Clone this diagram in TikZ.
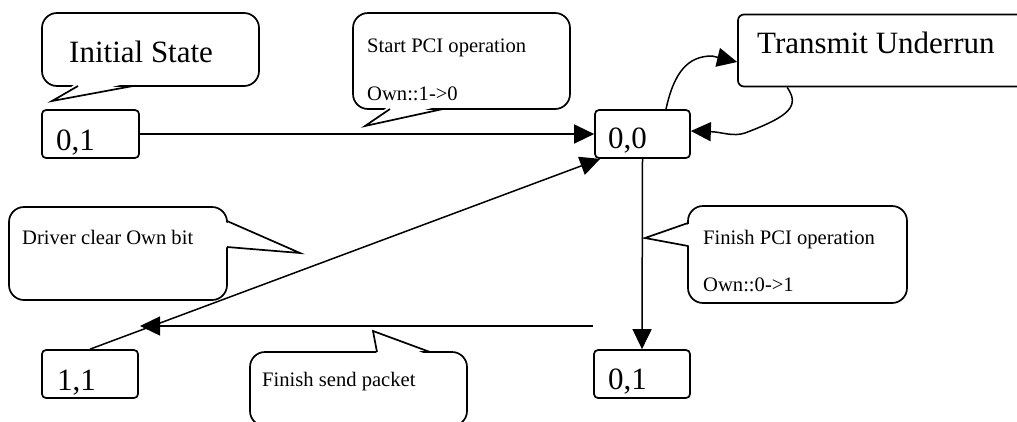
\documentclass[tikz,border=0pt]{standalone}
\usepackage{fontspec}
\setmainfont{Liberation Serif}
\usetikzlibrary{arrows.meta,calc}
\begin{document}
\begin{tikzpicture}[x=1pt,y=-1pt,
  statebox/.style={draw, line width=1.7pt, rounded corners=4pt, minimum width=96pt, minimum height=48pt, inner sep=0pt},
  bigtxt/.style={inner sep=0pt, anchor=base west, font=\fontsize{31}{36}\selectfont},
  smalltxt/.style={inner sep=0pt, anchor=base west, font=\fontsize{20.6}{24}\selectfont},
  callbody/.style={draw, line width=1.7pt, fill=white, rounded corners=15pt},
  calltail/.style={draw, line width=1.7pt, line join=miter},
  conn/.style={line width=1.5pt, -{Triangle[length=20pt,width=19pt]}},
]
\useasboundingbox (0,0) rectangle (1017,421);
\clip (0,0) rectangle (1017,421);

% ---- callouts ----
% Initial State
\draw[callbody] (42,13) rectangle (259,86);
\fill[white] (78,82) -- (52,101) -- (133,82) -- cycle;
\draw[calltail] (78,86) -- (52,101) -- (133,86);
% Start PCI operation
\draw[callbody] (353,13) rectangle (570,109);
\fill[white] (390,105) -- (365,126) -- (443,105) -- cycle;
\draw[calltail] (390,109) -- (365,126) -- (443,109);
% Driver clear Own bit
\draw[callbody] (9,207) rectangle (227,300);
\fill[white] (223,221) -- (300,253) -- (223,247) -- cycle;
\draw[calltail] (227,221) -- (300,253) -- (227,247);
% Finish PCI operation
\draw[callbody] (688,206) rectangle (907,303);
\fill[white] (692,223) -- (645,238) -- (692,246) -- cycle;
\draw[calltail] (688,223) -- (645,238) -- (688,246);
% Finish send packet
\draw[callbody] (250,352) rectangle (467,426);
\fill[white] (377,356) -- (373,331) -- (430,356) -- cycle;
\draw[calltail] (377,352) -- (373,331) -- (430,352);

% ---- states ----
\node[statebox, minimum width=97pt] (s01) at (90.5,134) {};
\node[statebox, minimum width=95pt] (s00) at (642.5,134) {};
\node[statebox] (s01b) at (642,374) {};
\node[statebox] (s11) at (90,374) {};
\node[statebox, rounded corners=6pt, minimum width=300pt, minimum height=72pt] (tu) at (888,50.5) {};

% ---- texts ----
\node[bigtxt] (tInit) at (69,62) {Initial State};
\node[bigtxt] (t01) at (56,150) {0,1};
\node[bigtxt] (t00) at (608,148) {0,0};
\node[bigtxt] (t01b) at (608,389) {0,1};
\node[bigtxt] (t11) at (57,390) {1,1};
\node[bigtxt] (tTU) at (757,53) {Transmit Underrun};
\node[smalltxt] (tStart) at (367,52) {Start PCI operation};
\node[smalltxt] (tOwn10) at (367,100) {Own::1->0};
\node[smalltxt] (tDrv) at (22,244) {Driver clear Own bit};
\node[smalltxt] (tFin) at (703,244) {Finish PCI operation};
\node[smalltxt] (tOwn01) at (703,291) {Own::0->1};
\node[smalltxt] (tSend) at (262,386) {Finish send packet};

% ---- connectors ----
\draw[conn] (s01.east) -- (s00.west);
\draw[conn] (s11.north) -- ([xshift=6pt]s00.south west);
\draw[conn] (s00.south) -- (s01b.north);
\coordinate (fsA) at (593,326);
\coordinate (fsB) at (140,326);
\draw[conn] (fsA) -- (fsB);
\draw[conn] ([xshift=23.5pt]s00.north) .. controls (674,72) and (688,56) .. (712,56) -- ([yshift=-11.5pt]tu.west);
\draw[conn] ([xshift=50pt]tu.south west) .. controls (800,106) and (790,116) .. (745,133) .. controls (733,137) and (722,132) .. ([yshift=3pt]s00.east);
\end{tikzpicture}
\end{document}
